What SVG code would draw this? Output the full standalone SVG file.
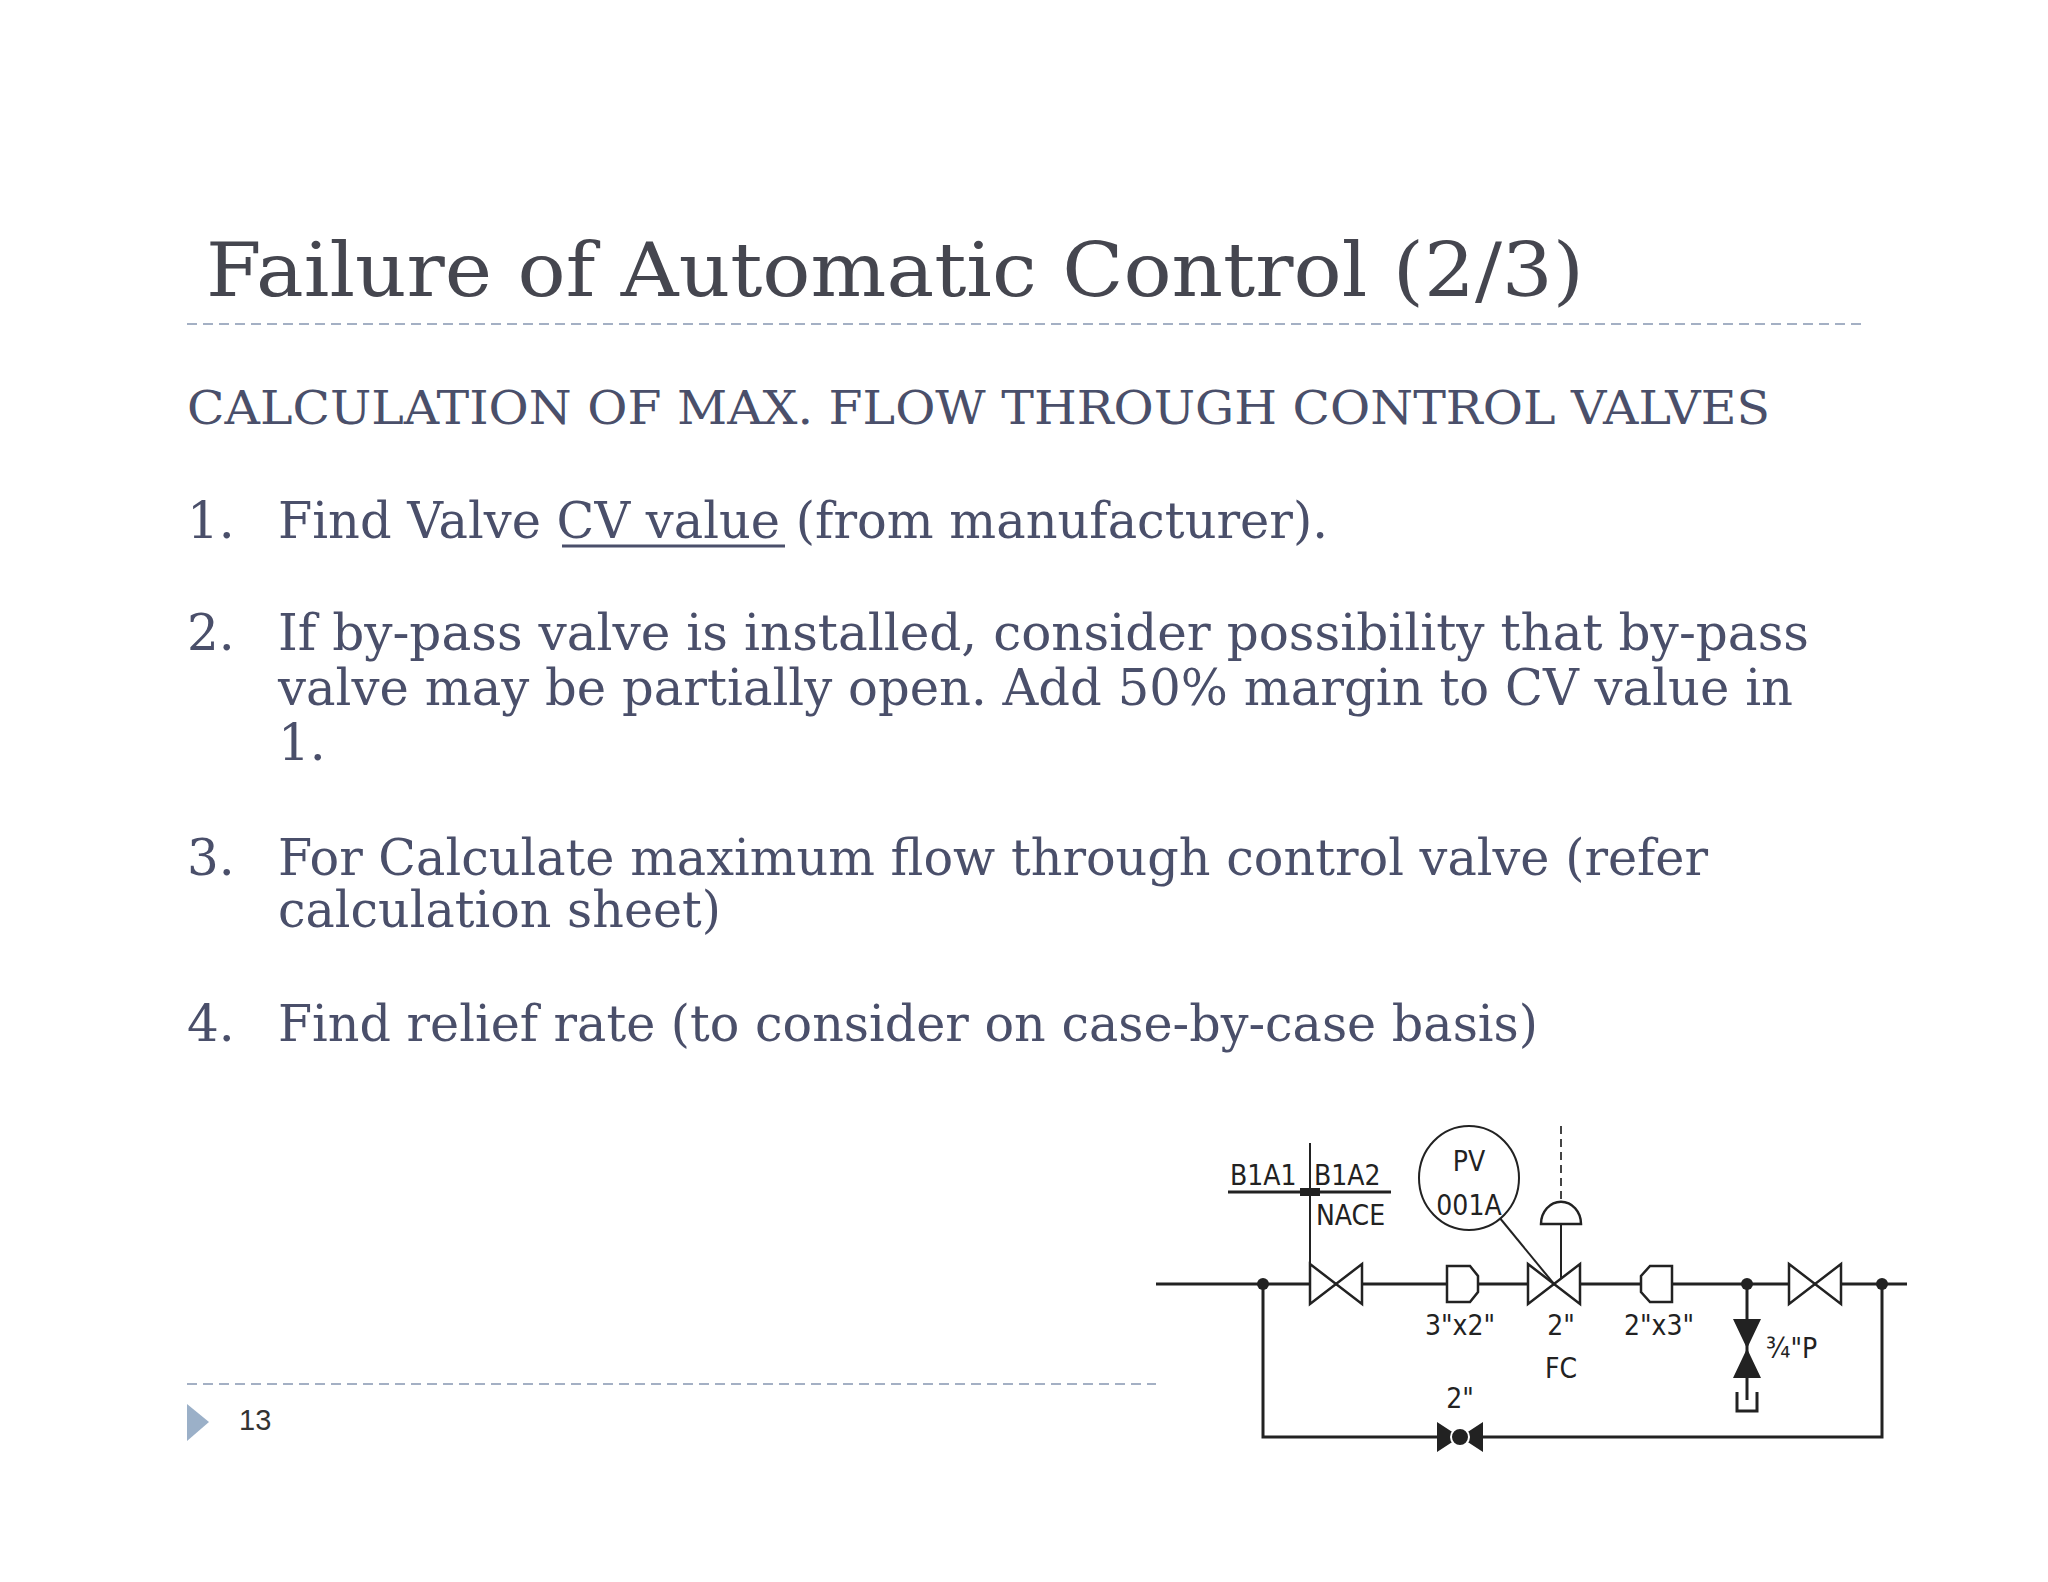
<svg xmlns="http://www.w3.org/2000/svg" width="2048" height="1582" viewBox="0 0 2048 1582">
<style>
.t{font-family:"DejaVu Serif","Liberation Serif",serif;fill:#4a4f6a}
.p{stroke:#222;stroke-width:3;fill:none}
.f{fill:#222}
.v{stroke:#222;stroke-width:2.5;fill:#fff}
.l{font-family:"DejaVu Sans Condensed","Liberation Sans",sans-serif;font-size:28px;fill:#222}
.d{stroke:#a4b0c4;stroke-width:2;stroke-dasharray:10 6}
</style>
<rect width="2048" height="1582" fill="#fff"/>
<text class="t" x="206" y="296" font-size="74" style="fill:#45464f" textLength="1378" lengthAdjust="spacingAndGlyphs">Failure of Automatic Control (2/3)</text>
<line class="d" x1="187" y1="324" x2="1861" y2="324"/>
<text class="t" x="187" y="424" font-size="46" textLength="1583" lengthAdjust="spacingAndGlyphs">CALCULATION OF MAX. FLOW THROUGH CONTROL VALVES</text>
<g class="t" font-size="50">
<text x="187" y="538">1.</text><text x="278" y="538" textLength="1050" lengthAdjust="spacingAndGlyphs">Find Valve CV value (from manufacturer).</text>
<line x1="562" y1="546" x2="785" y2="546" stroke="#4a4f6a" stroke-width="3"/>
<text x="187" y="650">2.</text><text x="278" y="650" textLength="1531" lengthAdjust="spacingAndGlyphs">If by-pass valve is installed, consider possibility that by-pass</text>
<text x="278" y="705" textLength="1515" lengthAdjust="spacingAndGlyphs">valve may be partially open. Add 50% margin to CV value in</text>
<text x="278" y="760">1.</text>
<text x="187" y="875">3.</text><text x="278" y="875" textLength="1430" lengthAdjust="spacingAndGlyphs">For Calculate maximum flow through control valve (refer</text>
<text x="278" y="927" textLength="443" lengthAdjust="spacingAndGlyphs">calculation sheet)</text>
<text x="187" y="1041">4.</text><text x="278" y="1041" textLength="1260" lengthAdjust="spacingAndGlyphs">Find relief rate (to consider on case-by-case basis)</text>
</g>
<line class="d" x1="187" y1="1384" x2="1156" y2="1384"/>
<polygon points="187,1404 209,1422 187,1441" fill="#9bb0c8"/>
<text x="239" y="1430" font-family="Liberation Sans,sans-serif" font-size="29" fill="#333">13</text>
<g id="connectors">
<line class="p" x1="1156" y1="1284" x2="1907" y2="1284"/>
<polyline class="p" points="1263,1284 1263,1437 1882,1437 1882,1284"/>
<line class="p" x1="1747" y1="1284" x2="1747" y2="1400"/>
<line x1="1310" y1="1143" x2="1310" y2="1264" stroke="#222" stroke-width="2"/>
<line x1="1228" y1="1192" x2="1391" y2="1192" stroke="#222" stroke-width="3"/>
<rect x="1300" y="1188" width="20" height="8" class="f"/>
<line x1="1499" y1="1217" x2="1554" y2="1284" stroke="#222" stroke-width="2"/>
<line x1="1561" y1="1224" x2="1561" y2="1284" stroke="#222" stroke-width="2"/>
<line x1="1561" y1="1126" x2="1561" y2="1202" stroke="#444" stroke-width="2" stroke-dasharray="8 5"/>
</g>
<g id="dots" class="f"><circle cx="1263" cy="1284" r="6"/><circle cx="1747" cy="1284" r="6"/><circle cx="1882" cy="1284" r="6"/></g>
<g id="labels">
<text class="l" x="1230" y="1185">B1A1</text><text class="l" x="1314" y="1185">B1A2</text>
<text class="l" x="1316" y="1225">NACE</text>
</g>
<g id="pv"><ellipse cx="1469" cy="1178" rx="50" ry="52" fill="#fff" stroke="#222" stroke-width="2"/>
<text class="l" x="1469" y="1171" text-anchor="middle">PV</text><text class="l" x="1469" y="1215" text-anchor="middle">001A</text></g>
<g id="valve1"><polygon class="v" points="1310,1264 1362,1304 1362,1264 1310,1304"/></g>
<g id="reducer1"><polygon class="v" points="1447,1266 1470,1266 1478,1276 1478,1292 1470,1302 1447,1302"/><text class="l" x="1460" y="1335" text-anchor="middle">3"x2"</text></g>
<g id="cv"><polygon class="v" points="1528,1264 1580,1304 1580,1264 1528,1304"/>
<path d="M1541,1224 A18,20 0 0 1 1581,1224 Z" class="v"/>
<text class="l" x="1561" y="1335" text-anchor="middle">2"</text><text class="l" x="1561" y="1378" text-anchor="middle">FC</text></g>
<g id="reducer2"><polygon class="v" points="1672,1266 1650,1266 1641,1276 1641,1292 1650,1302 1672,1302"/><text class="l" x="1659" y="1335" text-anchor="middle">2"x3"</text></g>
<g id="valve3"><polygon class="v" points="1789,1264 1841,1304 1841,1264 1789,1304"/></g>
<g id="drain"><polygon class="f" points="1733,1319 1761,1319 1733,1378 1761,1378"/>
<polyline class="p" points="1737,1392 1737,1411 1757,1411 1757,1392"/>
<text class="l" x="1766" y="1358">¾"P</text></g>
<g id="bypass"><polygon class="f" points="1437,1422 1483,1452 1483,1422 1437,1452"/><circle cx="1460" cy="1437" r="9" fill="#222" stroke="#fff" stroke-width="2"/>
<text class="l" x="1460" y="1408" text-anchor="middle">2"</text></g>
</svg>
